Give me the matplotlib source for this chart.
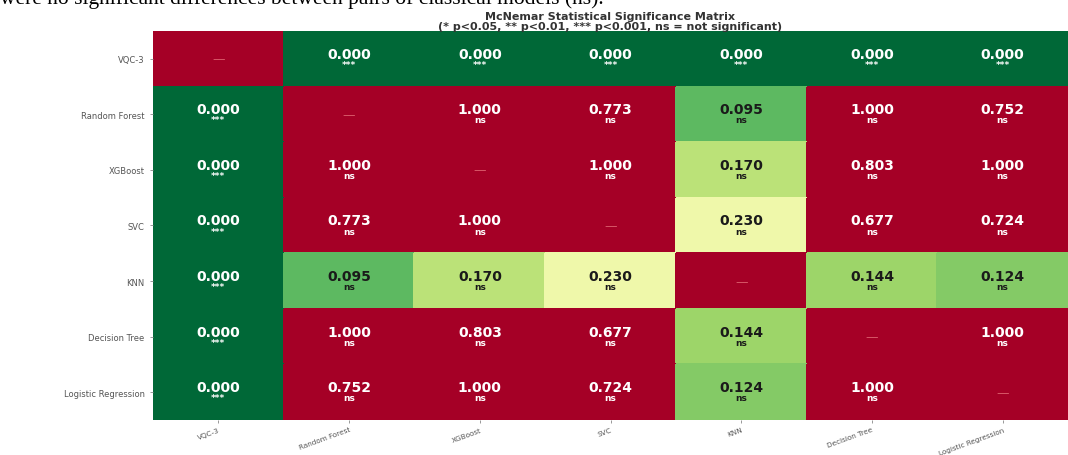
import numpy as np
import matplotlib
matplotlib.use("Agg")
import matplotlib.pyplot as plt

# modelos comparados (filas = columnas)
models = ["VQC-3", "Random Forest", "XGBoost", "SVC", "KNN",
          "Decision Tree", "Logistic Regression"]

# p-valores de McNemar (diagonal = nan)
p_vqc = [np.nan, 0.000, 0.000, 0.000, 0.000, 0.000, 0.000]
p_rf = [0.000, np.nan, 1.000, 0.773, 0.095, 1.000, 0.752]
p_xgb = [0.000, 1.000, np.nan, 1.000, 0.170, 0.803, 1.000]
p_svc = [0.000, 0.773, 1.000, np.nan, 0.230, 0.677, 0.724]
p_knn = [0.000, 0.095, 0.170, 0.230, np.nan, 0.144, 0.124]
p_dt = [0.000, 1.000, 0.803, 0.677, 0.144, np.nan, 1.000]
p_lr = [0.000, 0.752, 1.000, 0.724, 0.124, 1.000, np.nan]

pvals = np.array([p_vqc, p_rf, p_xgb, p_svc, p_knn, p_dt, p_lr])


def sig_label(p):
    if p < 0.001:
        return "***"
    if p < 0.01:
        return "**"
    if p < 0.05:
        return "*"
    return "ns"


fig = plt.figure(figsize=(10.68, 4.56), dpi=100)
ax = fig.add_axes([0.1433, 0.0768, 0.8567, 0.853])

# la diagonal se pinta como no significativa (rojo)
color_vals = np.where(np.isnan(pvals), 1.0, pvals)
cmap = plt.get_cmap("RdYlGn_r")
n = len(models)
ax.pcolormesh(np.arange(n + 1), np.arange(n + 1), color_vals, cmap=cmap,
              vmin=0, vmax=0.5, edgecolors="face", linewidth=0.2)
ax.set_xlim(0, n)
ax.set_ylim(n, 0)

for i in range(n):
    for j in range(n):
        p = pvals[i, j]
        if np.isnan(p):
            ax.text(j + 0.5, i + 0.5, "\u2014", ha="center", va="center",
                    color="#d85868", fontsize=9)
            continue
        light = 0.06 < p < 0.4
        tc = "#1a1a1a" if light else "white"
        ax.text(j + 0.5, i + 0.41, f"{p:.3f}", ha="center", va="center",
                color=tc, fontsize=10, fontweight="bold")
        ax.text(j + 0.5, i + 0.6, sig_label(p), ha="center", va="center",
                color=tc, fontsize=6.5, fontweight="bold")

ax.set_xticks(np.arange(n) + 0.5)
ax.set_yticks(np.arange(n) + 0.5)
ax.set_xticklabels(models, rotation=20, ha="right", rotation_mode="anchor",
                   fontsize=5.2, color="#555555")
ax.set_yticklabels(models, fontsize=6, color="#555555")
ax.tick_params(length=2.5, color="#888888", width=0.6)
ax.tick_params(axis="x", pad=2)
for s in ax.spines.values():
    s.set_visible(False)

fig.text(0.571, 0.962, "McNemar Statistical Significance Matrix",
         ha="center", va="center", fontsize=8, fontweight="bold", color="#333333")
fig.text(0.571, 0.94, "(* p<0.05, ** p<0.01, *** p<0.001, ns = not significant)",
         ha="center", va="center", fontsize=8, fontweight="bold", color="#333333")

# linea del documento que queda cortada arriba
fig.text(0.0, 1 - 4 / 456, "were no significant differences between pairs of classical models (ns).",
         ha="left", va="baseline", fontsize=15.5, family="Liberation Serif", color="black")

fig.savefig("out.png", dpi=100)
